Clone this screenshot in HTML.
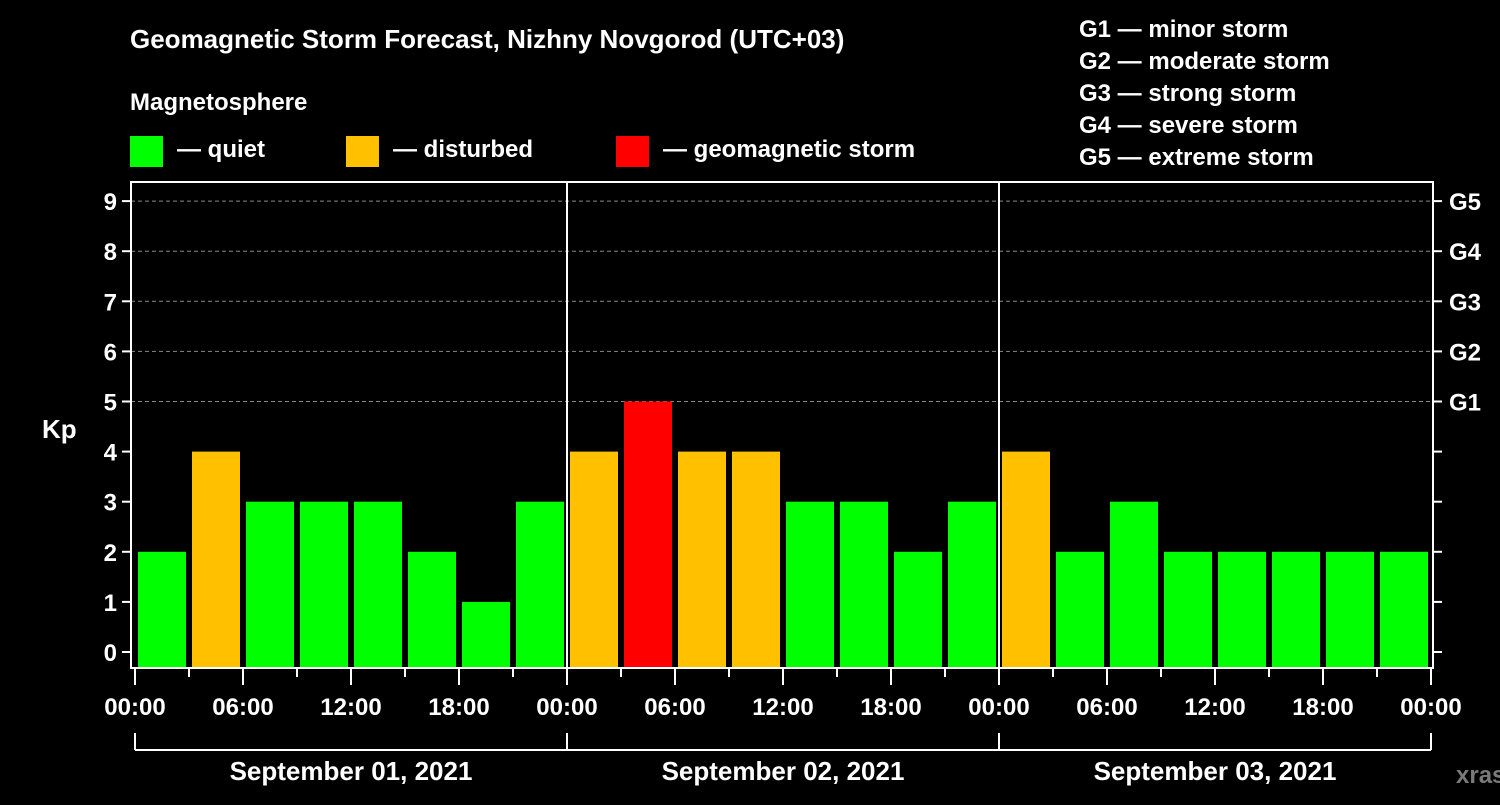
<!DOCTYPE html>
<html><head><meta charset="utf-8"><style>
body{margin:0;background:#000;width:1500px;height:800px;overflow:hidden}
text{font-family:"Liberation Sans",Arial,sans-serif;font-weight:bold;fill:#fff}
</style></head><body>
<svg id="chart" width="1500" height="800" xmlns="http://www.w3.org/2000/svg">
<rect width="1500" height="800" fill="#000"/>
<text x="130" y="48" font-size="26">Geomagnetic Storm Forecast, Nizhny Novgorod (UTC+03)</text>
<text x="130" y="110" font-size="24">Magnetosphere</text>
<g><rect x="130" y="136" width="33" height="31" fill="#00ff00"/><text x="177" y="157" font-size="24">— quiet</text></g>
<g><rect x="346" y="136" width="33" height="31" fill="#ffc000"/><text x="393" y="157" font-size="24">— disturbed</text></g>
<g><rect x="616" y="136" width="33" height="31" fill="#ff0000"/><text x="663" y="157" font-size="24">— geomagnetic storm</text></g>
<g font-size="24">
<text x="1079" y="37">G1 — minor storm</text>
<text x="1079" y="69">G2 — moderate storm</text>
<text x="1079" y="101">G3 — strong storm</text>
<text x="1079" y="133">G4 — severe storm</text>
<text x="1079" y="165">G5 — extreme storm</text>
</g>
<text x="42" y="438" font-size="26">Kp</text>
<text x="1456" y="783" font-size="24" fill="#777" style="fill:#7a7a7a">xras.ru</text>
<g id="grid"></g><g id="bars"></g><g id="axes"></g>
</svg>
<script>
const hoursLabels=["00:00","06:00","12:00","18:00"];
const dayLabels=["September 01, 2021","September 02, 2021","September 03, 2021"];
const kpValues=[2,4,3,3,3,2,1,3, 4,5,4,4,3,3,2,3, 4,2,3,2,2,2,2,2];
const gLabels=["G1","G2","G3","G4","G5"];
const NS="http://www.w3.org/2000/svg";
const X0=135,X1=1431,L=131,R=1433,T=182,B=668;
const x=h=>X0+(X1-X0)*h/72;
const y=k=>652-k*50.1;
function el(tag,attrs,parent,txt){const e=document.createElementNS(NS,tag);for(const k in attrs)e.setAttribute(k,attrs[k]);if(txt!==undefined)e.textContent=txt;parent.appendChild(e);return e;}
const grid=document.getElementById('grid'),bars=document.getElementById('bars'),axes=document.getElementById('axes');
for(let k=5;k<=9;k++){const g=el('line',{x1:L,x2:R,y1:y(k),y2:y(k),stroke:'#888','stroke-dasharray':'4,3','stroke-width':1},grid);

}
kpValues.forEach((v,i)=>{const c=v>=5?'#ff0000':(v>=4?'#ffc000':'#00ff00');
const r=el('rect',{x:x(i*3)+3,width:x(3)-x(0)-6,y:y(v),height:B-y(v),fill:c},bars);

});
// frame
const fr=el('rect',{x:L,y:T,width:R-L,height:B-T,fill:'none',stroke:'#fff','stroke-width':2},axes);


for(let d=1;d<3;d++){const s=el('line',{x1:x(d*24),x2:x(d*24),y1:T,y2:B,stroke:'#fff','stroke-width':2},axes);

}
for(let k=0;k<=9;k++){el('line',{x1:L-9,x2:L,y1:y(k),y2:y(k),stroke:'#fff','stroke-width':2},axes);
el('line',{x1:R,x2:R+9,y1:y(k),y2:y(k),stroke:'#fff','stroke-width':2},axes);
const t=el('text',{x:L-14,y:y(k)+9,'text-anchor':'end','font-size':24},axes,String(k));

}
gLabels.forEach((g,i)=>{const t=el('text',{x:1449,y:y(5+i)+9,'font-size':24},axes,g);

});
for(let h=0;h<=72;h+=3){const major=h%6===0;el('line',{x1:x(h),x2:x(h),y1:B,y2:B+(major?17:9),stroke:'#fff','stroke-width':2},axes);
if(major){const t=el('text',{x:x(h),y:715,'text-anchor':'middle','font-size':24},axes,hoursLabels[(h/6)%4]);

}}
el('line',{x1:x(0),x2:x(72),y1:750,y2:750,stroke:'#fff','stroke-width':2},axes);
for(let d=0;d<=3;d++)el('line',{x1:x(d*24),x2:x(d*24),y1:733,y2:750,stroke:'#fff','stroke-width':2},axes);
dayLabels.forEach((s,d)=>{const t=el('text',{x:x(d*24+12),y:780,'text-anchor':'middle','font-size':26},axes,s);

});
</script>
</body></html>
